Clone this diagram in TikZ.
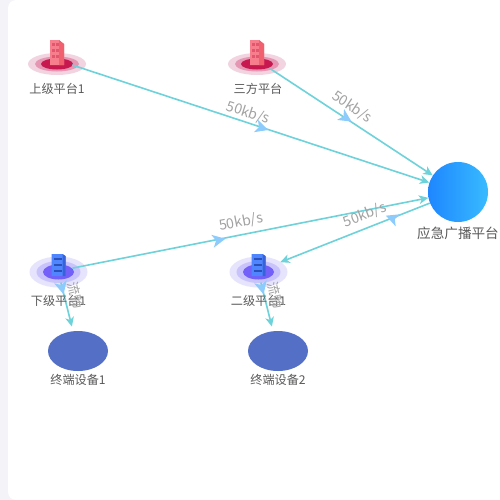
\documentclass[tikz,border=0pt]{standalone}
\usepackage{fontspec}
\setmainfont{Noto Sans CJK SC}
\usetikzlibrary{arrows.meta,shapes.geometric}
\definecolor{bg}{HTML}{F3F3F8}
\definecolor{edge}{HTML}{6ED2DA}
\definecolor{flow}{HTML}{8CCBFB}
\definecolor{lab}{HTML}{A2A2A2}
\definecolor{txt}{HTML}{595959}
\definecolor{term}{HTML}{5470C6}
\definecolor{emL}{HTML}{1E86FF}
\definecolor{emR}{HTML}{38BBFF}
\definecolor{rA}{HTML}{F2D3E0}
\definecolor{rB}{HTML}{E596B2}
\definecolor{rC}{HTML}{C7184F}
\definecolor{rD}{HTML}{F77E8C}
\definecolor{rE}{HTML}{F0606E}
\definecolor{rF}{HTML}{E2566E}
\definecolor{bA}{HTML}{E6E3FD}
\definecolor{bB}{HTML}{C9C3FB}
\definecolor{bC}{HTML}{7260F8}
\definecolor{bD}{HTML}{4F86FF}
\definecolor{bE}{HTML}{3A62D8}
\definecolor{bF}{HTML}{2B50B8}
\tikzset{
 lbl/.style={font=\fontsize{9.1}{10}\selectfont,text=txt,inner sep=0pt},
 biglbl/.style={font=\fontsize{10.2}{11}\selectfont,text=txt,inner sep=0pt},
 flowlab/.style={font=\fontsize{10.6}{12}\selectfont,text=lab,inner sep=0pt},
 sidelab/.style={font=\fontsize{10}{11}\selectfont,text=lab,inner sep=0pt,rotate=-76},
 conn/.style={draw=edge,line width=1.2pt,-{Stealth[length=7pt,width=6.5pt,inset=2pt]}},
 termnode/.style={ellipse,inner sep=0pt,fill=term,minimum width=45pt,minimum height=30pt},
}
\newcommand{\flowmark}[3]{\fill[flow,shift={(#1,#2)},rotate=#3] (6.5,0) -- (-6.5,-6.5) -- (-3,0) -- (-6.5,6.5) -- cycle;}
\newcommand{\redicon}[2]{%
 \begin{scope}[shift={(#1,#2)}]
 \fill[rA] (0,0) ellipse [x radius=29,y radius=11];
 \fill[rB] (0,0) ellipse [x radius=22,y radius=7.5];
 \fill[rC] (0,0) ellipse [x radius=16,y radius=5.5];
 \fill[rD] (-7,-24) -- (2,-24) -- (7,-20) -- (7,1) -- (-7,1) -- cycle;
 \fill[rE] (2,-24) -- (7,-20) -- (7,1) -- (2,1) -- cycle;
 \foreach \u in {-21,-15,-9} \foreach \v in {-5,-1} \fill[rF] (\v,\u) rectangle ++(2.6,2.6);
 \end{scope}}
\newcommand{\blueicon}[2]{%
 \begin{scope}[shift={(#1,#2)}]
 \fill[bA] (0,0) ellipse [x radius=29,y radius=15.5];
 \fill[bB] (0,0) ellipse [x radius=22,y radius=11];
 \fill[bC] (0,0) ellipse [x radius=15.5,y radius=7.5];
 \fill[bD] (-7,-18) -- (4,-18) -- (7,-16) -- (7,4) -- (-7,4) -- cycle;
 \fill[bE] (4,-18) -- (7,-16) -- (7,4) -- (4,4) -- cycle;
 \foreach \u in {-14,-8,-2} \fill[bF] (-5,\u) rectangle ++(8,2.4);
 \end{scope}}
\begin{document}
\begin{tikzpicture}[x=0.75pt,y=-0.75pt]
\useasboundingbox (0,0) rectangle (500,500);
\fill[bg] (0,0) rectangle (500,500);
\fill[white,rounded corners=6pt] (8,0) rectangle (520,500);
\redicon{57}{64}
\redicon{257}{64}
\blueicon{58.5}{272}
\blueicon{258.5}{272}
\coordinate (n1) at (57,60);
\coordinate (n3) at (257,60);
\coordinate (n5) at (58,271);
\coordinate (n6) at (258,271);
\node[circle,minimum size=45pt,inner sep=0pt,left color=emL,right color=emR] (em) at (458,192) {};
\node[termnode] (t1) at (78,351) {};
\node[termnode] (t2) at (278,351) {};
\draw[conn,shorten <=12pt] (n1) -- (em);
\draw[conn,shorten <=12pt] (n3) -- (em);
\draw[conn,shorten <=11pt] (n5) -- (em);
\draw[conn,shorten >=18pt] (em) -- (n6);
\draw[conn,shorten <=9pt,shorten >=3.5pt] (n5) -- (t1);
\draw[conn,shorten <=9pt,shorten >=3.5pt] (n6) -- (t2);
\flowmark{262}{128}{-18}
\flowmark{346}{118}{-33}
\flowmark{219}{240}{11}
\flowmark{392}{218}{159}
\flowmark{62}{288}{-76}
\flowmark{262}{288}{-76}
\node[lbl] (l1) at (57,89) {上级平台1};
\node[lbl] (l3) at (258,89) {三方平台};
\node[lbl] (l5) at (58.5,301) {下级平台1};
\node[lbl] (l6) at (258.5,301) {二级平台1};
\node[lbl] (l7) at (78,380) {终端设备1};
\node[lbl] (l8) at (278,380) {终端设备2};
\node[biglbl] (l9) at (458,233) {应急广播平台};
\node[flowlab,rotate=-18] (f1) at (248,113) {50kb/s};
\node[flowlab,rotate=-33] (f2) at (352,107) {50kb/s};
\node[flowlab,rotate=11] (f3) at (241,222) {50kb/s};
\node[flowlab,rotate=21] (f4) at (365,215) {50kb/s};
\node[sidelab] (f5) at (76,295) {流畅};
\node[sidelab] (f6) at (276,295) {流畅};
\end{tikzpicture}
\end{document}
